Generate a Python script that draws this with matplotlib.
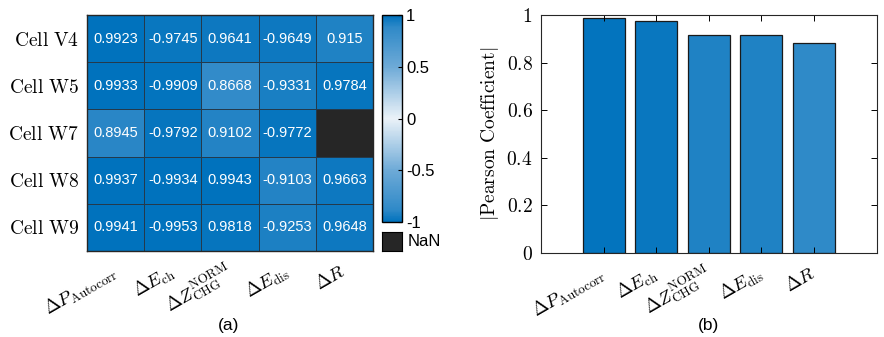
import numpy as np
import matplotlib
matplotlib.use("Agg")
import matplotlib.pyplot as plt
import matplotlib.transforms as mtransforms
from matplotlib.colors import LinearSegmentedColormap

plt.rcParams['font.family'] = ['Liberation Sans', 'DejaVu Sans']
plt.rcParams['mathtext.fontset'] = 'cm'

# data
cells = ['Cell V4', 'Cell W5', 'Cell W7', 'Cell W8', 'Cell W9']
features = [r'$\Delta P_{\mathrm{Autocorr}}$', r'$\Delta E_{\mathrm{ch}}$',
            r'$\Delta Z^{\mathrm{NORM}}_{\mathrm{CHG}}$', r'$\Delta E_{\mathrm{dis}}$',
            r'$\Delta R$']
v4 = [0.9923, -0.9745, 0.9641, -0.9649, 0.915]
w5 = [0.9933, -0.9909, 0.8668, -0.9331, 0.9784]
w7 = [0.8945, -0.9792, 0.9102, -0.9772, np.nan]
w8 = [0.9937, -0.9934, 0.9943, -0.9103, 0.9663]
w9 = [0.9941, -0.9953, 0.9818, -0.9253, 0.9648]
pearson_abs = [0.989, 0.975, 0.917, 0.916, 0.881]

corr = np.array([v4, w5, w7, w8, w9])

# symmetric blue-white-blue map
blue = (0/255, 114/255, 189/255)
mid1 = (48/255, 138/255, 200/255)
mid2 = (110/255, 170/255, 215/255)
light = (235/255, 242/255, 248/255)
cmap = LinearSegmentedColormap.from_list('bwb', [
    (0.0, blue), (0.06, mid1), (0.25, mid2), (0.5, light),
    (0.75, mid2), (0.94, mid1), (1.0, blue)])
nan_col = '#262626'
cmap.set_bad(nan_col)

fig = plt.figure(figsize=(8.84, 3.37), dpi=100)
shift = mtransforms.ScaledTranslation(6 / 100, 0, fig.dpi_scale_trans)

# ---- (a) heatmap
ax = fig.add_axes([0.0984, 0.2552, 0.3235, 0.7003])
m = np.ma.masked_invalid(corr)
mesh = ax.pcolormesh(np.arange(6), np.arange(6), m, cmap=cmap, vmin=-1, vmax=1,
                     edgecolors='#243a4c', linewidth=0.6)
ax.set_xlim(0, 5)
ax.set_ylim(5, 0)
for i in range(5):
    for j in range(5):
        if not np.isnan(corr[i, j]):
            ax.text(j + 0.5, i + 0.5, f'{corr[i, j]:.4g}', color='white',
                    ha='center', va='center', fontsize=10.5)
ax.set_yticks(np.arange(5) + 0.5)
ax.set_yticklabels([r'$\mathrm{' + c.replace(' ', r'\ ') + '}$' for c in cells], fontsize=14)
ax.set_xticks(np.arange(5) + 0.5)
ax.set_xticklabels(features, fontsize=13.5, rotation=30, ha='right', va='center',
                   rotation_mode='anchor')
for lab in ax.get_xticklabels():
    lab.set_transform(lab.get_transform() + shift)
ax.tick_params(length=0, pad=6)
ax.tick_params(axis='x', pad=14)
for s in ax.spines.values():
    s.set_linewidth(1.0)
    s.set_color('#262626')

cax = fig.add_axes([0.432, 0.3412, 0.0226, 0.614])
cb = fig.colorbar(mesh, cax=cax, ticks=[-1, -0.5, 0, 0.5, 1])
cb.ax.set_yticklabels(['-1', '-0.5', '0', '0.5', '1'])
cb.ax.tick_params(direction='in', length=3, labelsize=12, pad=3, width=0.8)
cb.outline.set_linewidth(1.0)

nax = fig.add_axes([0.432, 0.2552, 0.0226, 0.0564])
nax.set_facecolor(nan_col)
nax.set_xticks([])
nax.set_yticks([])
nax.text(1.3, 0.5, 'NaN', transform=nax.transAxes, ha='left', va='center', fontsize=12)

fig.text(0.258, 0.033, '(a)', ha='center', va='center', fontsize=12.5)

# ---- (b) bar chart
bx = fig.add_axes([0.612, 0.2493, 0.3797, 0.7062])
pos = np.arange(len(pearson_abs))
bar_colors = [cmap((v + 1) / 2) for v in pearson_abs]
bx.bar(pos, pearson_abs, width=0.8, color=bar_colors, edgecolor='#1a1a1a', linewidth=0.9)
bx.set_xlim(-1.2, 5.2)
bx.set_ylim(0, 1)
bx.set_yticks(np.arange(0, 1.01, 0.2))
bx.set_yticklabels([f'${t:g}$' for t in np.arange(0, 1.01, 0.2)], fontsize=14)
bx.set_xticks(pos)
bx.set_xticklabels(features, fontsize=13.5, rotation=30, ha='right', va='center',
                   rotation_mode='anchor')
for lab in bx.get_xticklabels():
    lab.set_transform(lab.get_transform() + shift)
bx.tick_params(direction='in', length=4, width=0.7, top=True, right=True)
bx.tick_params(axis='x', pad=14)
bx.tick_params(axis='y', pad=6)
bx.set_ylabel(r'$|\mathrm{Pearson\ Coefficient}|$', fontsize=14, labelpad=4)
for s in bx.spines.values():
    s.set_linewidth(0.8)
    s.set_color('#262626')

fig.text(0.802, 0.033, '(b)', ha='center', va='center', fontsize=12.5)

fig.savefig('out.png', dpi=100)
